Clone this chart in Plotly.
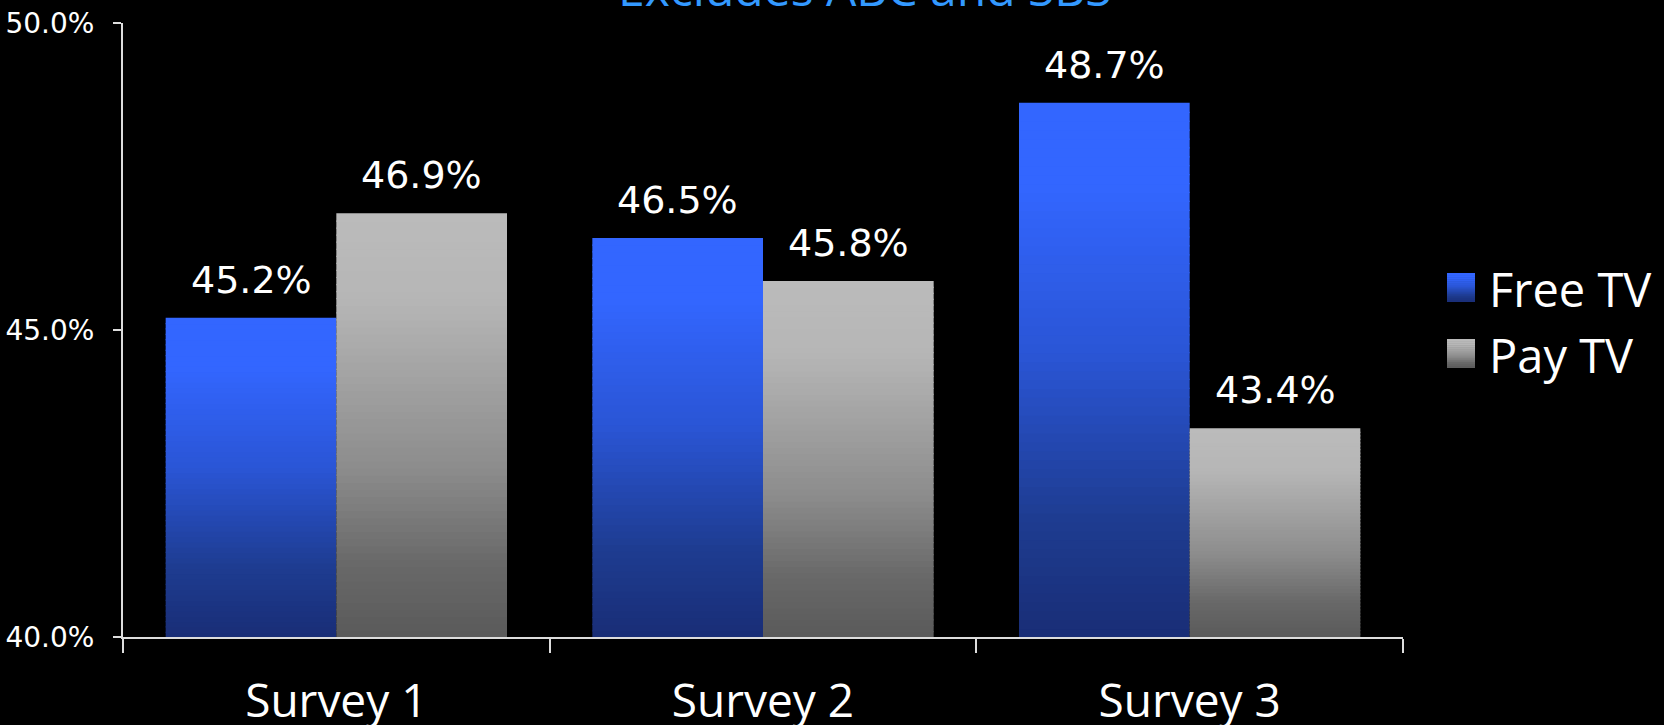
import plotly.graph_objects as go

# ---------------- data ----------------
categories = ["Survey 1", "Survey 2", "Survey 3"]
series_names = ["Free TV", "Pay TV"]
free_tv = [45.2, 46.5, 48.7]
pay_tv = [46.9, 45.8, 43.4]
y_tick_vals = [40, 45, 50]
y_tick_text = ["40.0%", "45.0%", "50.0%"]
title_text = "Excludes ABC and SBS"

# ---------------- style ----------------
W, H = 1664, 725
ML, MR, MT, MB = 123, 261, 23, 88
FONT = "Open Sans"
NUM_FONT = "DejaVu Sans"
Y_MIN, Y_MAX = 40, 50
N_SEG = 60

blue_stops = [(0.0, (0x33, 0x66, 0xFF)), (0.15, (0x33, 0x66, 0xFF)),
              (0.47, (0x2A, 0x55, 0xD5)), (0.78, (0x1E, 0x3C, 0x90)),
              (1.0, (0x19, 0x2D, 0x76))]
gray_stops = [(0.0, (0xBB, 0xBB, 0xBB)), (0.2, (0xB6, 0xB6, 0xB6)),
              (0.6, (0x8C, 0x8C, 0x8C)), (0.83, (0x68, 0x68, 0x68)),
              (1.0, (0x5A, 0x5A, 0x5A))]


def grad(stops, t):
    for (t0, c0), (t1, c1) in zip(stops[:-1], stops[1:]):
        if t0 <= t <= t1:
            f = 0 if t1 == t0 else (t - t0) / (t1 - t0)
            c = [round(a + (b - a) * f) for a, b in zip(c0, c1)]
            return "rgb(%d,%d,%d)" % tuple(c)
    c = stops[-1][1]
    return "rgb(%d,%d,%d)" % c


PW = W - ML - MR
PH = H - MT - MB


def px_x(px):
    return (px - ML) / PW


def px_y(py):
    return (H - MB - py) / PH


fig = go.Figure()

overlap = 0.02
for name, vals, stops in [(series_names[0], free_tv, blue_stops),
                          (series_names[1], pay_tv, gray_stops)]:
    heights = [(v - Y_MIN) / N_SEG for v in vals]
    for k in range(N_SEG):
        t = 1 - (k + 0.5) / N_SEG  # 0 at top, 1 at bottom
        ext = overlap if k > 0 else 0
        fig.add_trace(go.Bar(
            x=categories,
            y=[h + ext for h in heights],
            base=[Y_MIN + k * h - ext for h in heights],
            offsetgroup=name,
            name=name,
            marker=dict(color=grad(stops, t), line=dict(width=0)),
            showlegend=False,
            hoverinfo="skip",
        ))

# data labels
for si, (name, vals) in enumerate([(series_names[0], free_tv), (series_names[1], pay_tv)]):
    off = -0.2 if si == 0 else 0.2
    for i, v in enumerate(vals):
        fig.add_annotation(
            x=i + off, y=v, xref="x", yref="y",
            text="%.1f%%" % v, showarrow=False,
            yanchor="bottom", yshift=14,
            font=dict(family=NUM_FONT, size=38, color="white"),
        )

# title (cropped at top like the reference)
fig.add_annotation(
    x=px_x(865), y=px_y(22), xref="paper", yref="paper",
    text=title_text, showarrow=False, xanchor="center", yanchor="bottom",
    font=dict(family=FONT, size=48, color="#3399FF"),
)

# custom legend
legend_items = [(series_names[0], blue_stops, 273), (series_names[1], gray_stops, 339)]
for name, stops, top in legend_items:
    n = 14
    sz = 29
    for k in range(n):
        y0 = top + sz * k / n
        y1 = top + sz * (k + 1) / n + (0.6 if k < n - 1 else 0)
        fig.add_shape(type="rect", xref="paper", yref="paper",
                      x0=px_x(1447), x1=px_x(1475), y0=px_y(y1), y1=px_y(y0),
                      fillcolor=grad(stops, (k + 0.5) / n), line=dict(width=0))
    fig.add_annotation(
        x=px_x(1487), y=px_y(top + sz / 2 + 1), xref="paper", yref="paper",
        text=name, showarrow=False, xanchor="left", yanchor="middle",
        font=dict(family=FONT, size=47, color="white"),
    )

fig.update_layout(
    width=W, height=H,
    margin=dict(l=ML, r=MR, t=MT, b=MB, pad=0, autoexpand=False),
    paper_bgcolor="black", plot_bgcolor="black",
    barmode="group", bargap=0.2, bargroupgap=0,
    showlegend=False,
    font=dict(family=FONT, color="white"),
)
fig.update_xaxes(
    type="category", categoryorder="array", categoryarray=categories,
    automargin=False,
    showline=True, linecolor="#DDDDDD", linewidth=2,
    ticks="outside", tickson="boundaries", ticklen=14, tickwidth=2, tickcolor="#DDDDDD",
    tickfont=dict(family=FONT, size=46, color="white"),
    ticklabelstandoff=23,
    showgrid=False, zeroline=False,
)
fig.update_yaxes(
    range=[Y_MIN, Y_MAX], tickvals=y_tick_vals, ticktext=y_tick_text,
    automargin=False,
    showline=True, linecolor="#DDDDDD", linewidth=2,
    ticks="outside", ticklen=8, tickwidth=2, tickcolor="#DDDDDD",
    tickfont=dict(family=NUM_FONT, size=28, color="white"),
    ticklabelstandoff=13,
    showgrid=False, zeroline=False,
)

fig.write_html("out.html")
